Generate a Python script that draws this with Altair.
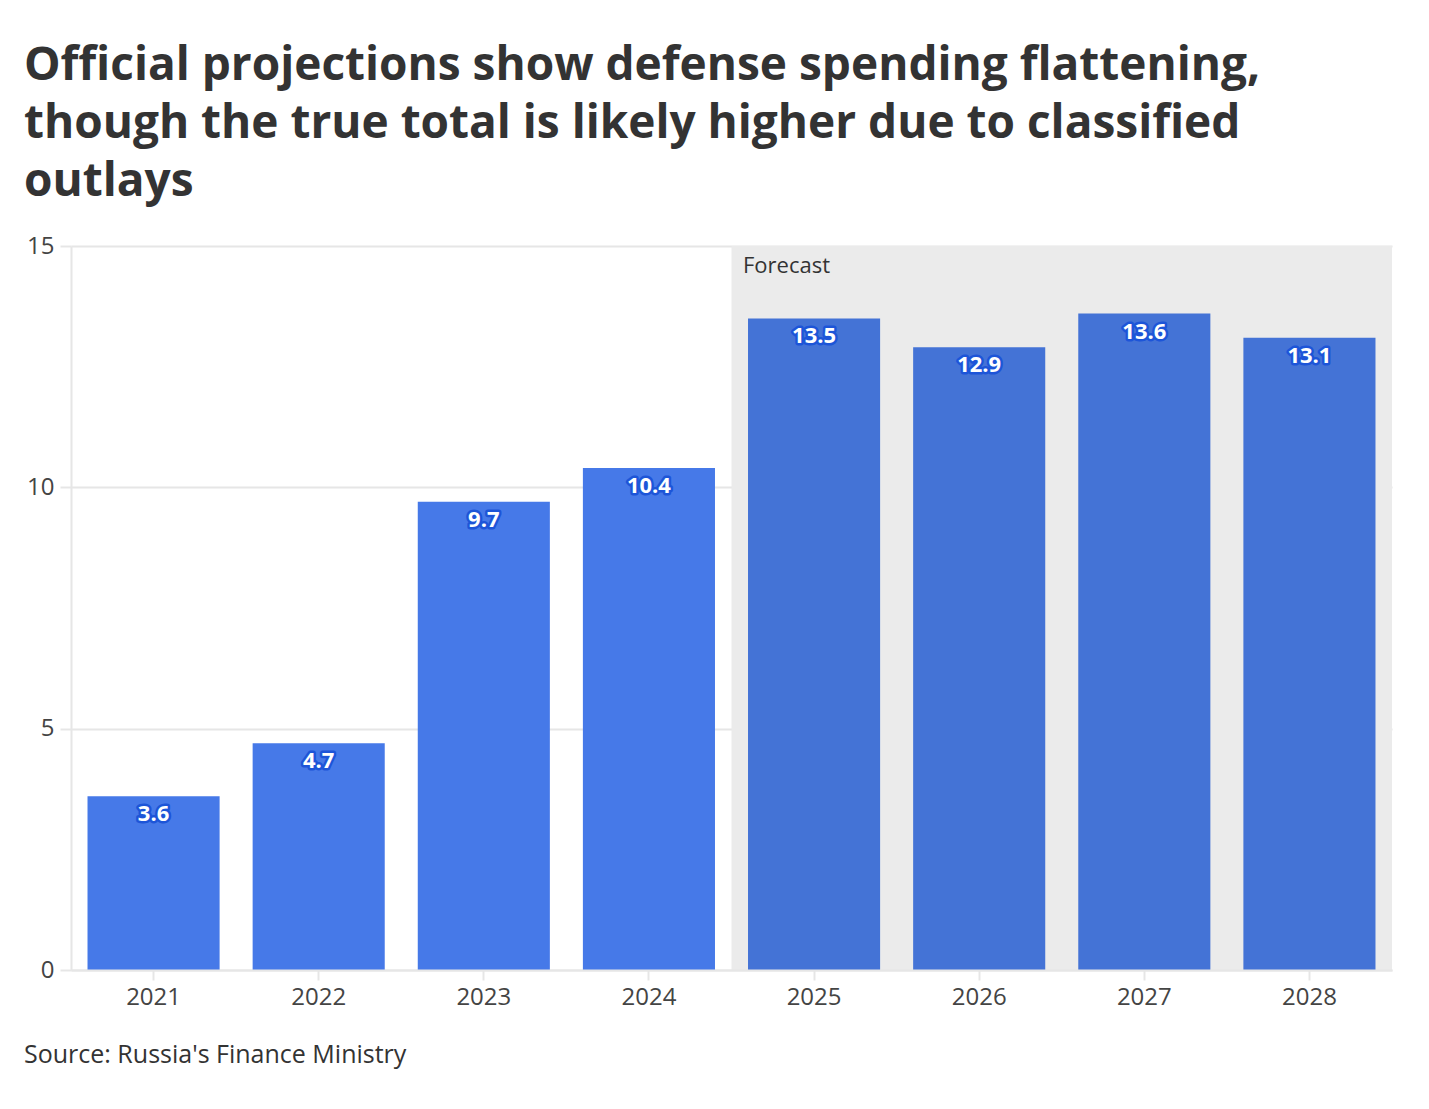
import altair as alt
import pandas as pd

years = ["2021", "2022", "2023", "2024", "2025", "2026", "2027", "2028"]
values = [3.6, 4.7, 9.7, 10.4, 13.5, 12.9, 13.6, 13.1]
periods = ["Actual"] * 4 + ["Forecast"] * 4
labels = ["3.6", "4.7", "9.7", "10.4", "13.5", "12.9", "13.6", "13.1"]

title_lines = [
    "Official projections show defense spending flattening,",
    "though the true total is likely higher due to classified",
    "outlays",
]
source_text = "Source: Russia's Finance Ministry"
forecast_start = "2025"

FONT = "Open Sans"
W, H = 1321, 724

df = pd.DataFrame({"year": years, "value": values, "period": periods, "label": labels})
shade_df = pd.DataFrame({"start": [forecast_start], "text": ["Forecast"]})

xscale = alt.Scale(domain=years, paddingInner=0.2, paddingOuter=0.1)
yscale = alt.Scale(domain=[0, 15])

x_axis = alt.Axis(
    title=None, labelFontSize=24, labelColor="#444444", labelFont=FONT,
    labelPadding=5, tickColor="#e6e6e6", tickSize=10, tickWidth=2,
    domainColor="#e6e6e6", domainWidth=2, grid=False, labelAngle=0,
)
y_axis = alt.Axis(
    title=None, values=[0, 5, 10, 15], labelFontSize=24, labelColor="#444444",
    labelFont=FONT, labelPadding=6, tickColor="#e6e6e6", tickSize=11, tickWidth=2,
    domainColor="#e6e6e6", domainWidth=2, gridColor="#e6e6e6", gridWidth=2,
)

shade = alt.Chart(shade_df).mark_rect(color="#ebebeb", xOffset=-16.5).encode(
    x=alt.X("start:N", scale=xscale, axis=x_axis, bandPosition=0),
    x2=alt.value(W),
    y=alt.value(0),
    y2=alt.value(H),
)

shade_label = alt.Chart(shade_df).mark_text(
    align="left", baseline="middle", fontSize=22, font=FONT, color="#333333", dx=-5
).encode(
    x=alt.X("start:N", scale=xscale, bandPosition=0),
    y=alt.value(20),
    text="text:N",
)

bars = alt.Chart(df).mark_bar().encode(
    x=alt.X("year:N", scale=xscale, axis=x_axis, sort=years),
    y=alt.Y("value:Q", scale=yscale, axis=y_axis),
    color=alt.Color(
        "period:N",
        scale=alt.Scale(domain=["Actual", "Forecast"], range=["#4679e8", "#4473d6"]),
        legend=None,
    ),
)

halo = alt.Chart(df).mark_text(
    baseline="middle", fontSize=22, font=FONT, fontWeight="bold", dy=18,
    color="#1d55d8", stroke="#1d55d8", strokeWidth=5, strokeJoin="round",
).encode(
    x=alt.X("year:N", scale=xscale),
    y=alt.Y("value:Q", scale=yscale),
    text="label:N",
)

label_text = alt.Chart(df).mark_text(
    baseline="middle", fontSize=22, font=FONT, fontWeight="bold", dy=18, color="white",
).encode(
    x=alt.X("year:N", scale=xscale),
    y=alt.Y("value:Q", scale=yscale),
    text="label:N",
)

source = alt.Chart(shade_df).mark_text(
    align="left", baseline="middle", fontSize=25, font=FONT, color="#333333",
).encode(
    x=alt.value(-47),
    y=alt.value(1055 - 246),
    text=alt.datum(source_text),
)

chart = alt.layer(shade, shade_label, bars, halo, label_text, source).properties(
    width=W,
    height=H,
    padding={"left": 71, "top": 246, "right": 37, "bottom": 139},
    autosize=alt.AutoSizeParams(type="none"),
    title=alt.TitleParams(
        text=title_lines, anchor="start", frame="group", dx=-47, fontSize=46,
        font=FONT, fontWeight="bold", color="#333333", lineHeight=58, offset=28,
    ),
).configure_view(stroke=None)

chart.save("out.html", embed_options={"renderer": "svg", "actions": False})
